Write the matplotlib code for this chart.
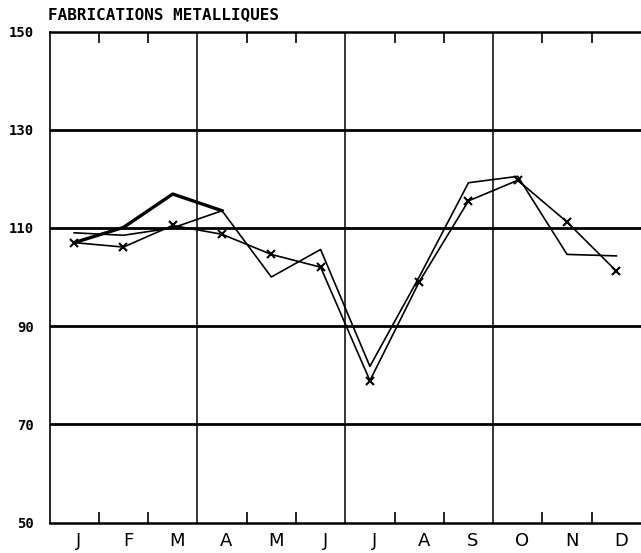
import numpy as np
import matplotlib
matplotlib.use("Agg")
import matplotlib.pyplot as plt
import matplotlib.transforms as mtransforms

# Data (index values, J..D)
months = ["J", "F", "M", "A", "M", "J", "J", "A", "S", "O", "N", "D"]
thin_line = [109, 108.5, 110, 113.5, 100, 105.6, 81.8, 100, 119.2, 120.5, 104.6, 104.3]
cross_line = [107, 106.1, 110.5, 108.7, 104.6, 102, 78.9, 99, 115.5, 119.7, 111.2, 101.2]
thick_line = [107, 110.1, 116.9, 113.5]
y_ticks = [50, 70, 90, 110, 130, 150]
quarter_bounds = [3, 6, 9]

x = np.arange(len(months)) + 0.5

fig = plt.figure(figsize=(6.41, 5.53), dpi=100)
ax = fig.add_axes([49.5 / 641, 1 - 522.5 / 553, 1 - 49.5 / 641, (522.5 - 31.5) / 553])

# grid: thick horizontals, thin quarter separators
for y in y_ticks[1:-1]:
    ax.axhline(y, color="black", lw=2.0, zorder=1)
for b in quarter_bounds:
    ax.axvline(b, color="black", lw=1.1, zorder=1)

ax.plot(x, thin_line, color="black", lw=1.2, zorder=3)
ax.plot(x, cross_line, color="black", lw=1.2, marker="x", ms=6, mew=1.5, zorder=3)
ax.plot(x[:len(thick_line)], thick_line, color="black", lw=2.4, zorder=3)

ax.set_xlim(0, 12)
ax.set_ylim(50, 150)

ax.spines["left"].set_linewidth(1.2)
for side in ["top", "bottom"]:
    ax.spines[side].set_linewidth(1.8)
ax.spines["right"].set_visible(False)

# month-boundary ticks, pointing inward, top and bottom
ax.set_xticks([b for b in range(1, 12) if b not in quarter_bounds])
ax.tick_params(axis="x", which="major", direction="in", length=8, width=1.2,
               top=True, bottom=True, labelbottom=False)
ax.set_xticks(x, minor=True)
ax.set_xticklabels(months, minor=True, fontsize=13, family="DejaVu Sans")
ax.tick_params(axis="x", which="minor", length=0, pad=7)
offset = mtransforms.ScaledTranslation(4.5 / 100, 0, fig.dpi_scale_trans)
for lbl in ax.get_xticklabels(minor=True):
    lbl.set_transform(lbl.get_transform() + offset)

ax.set_yticks(y_ticks)
ax.set_yticklabels([str(v) for v in y_ticks], fontsize=10, family="DejaVu Sans Mono",
                   fontweight="bold")
ax.tick_params(axis="y", length=0, pad=11)

fig.text(48 / 641, 1 - 15 / 553, "FABRICATIONS METALLIQUES", fontsize=11.5,
         family="DejaVu Sans Mono", fontweight="bold", va="center", ha="left")

fig.savefig("out.png", dpi=100)
